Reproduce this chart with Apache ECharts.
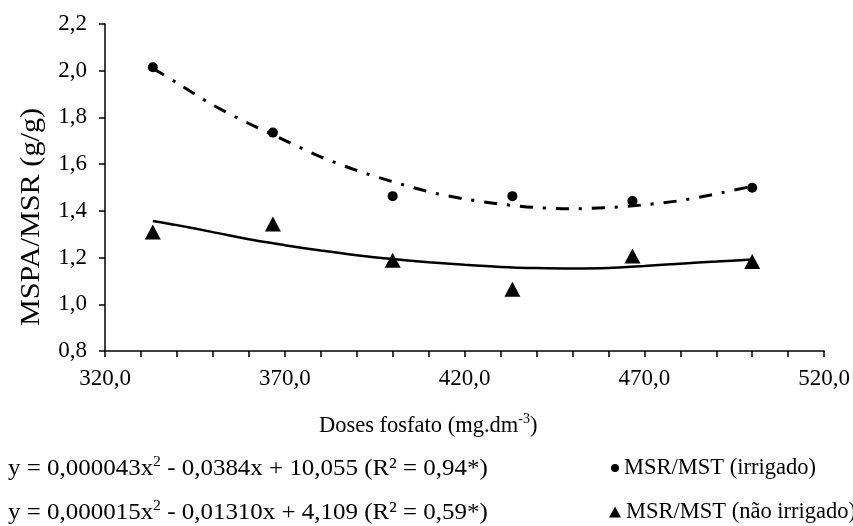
<!DOCTYPE html>
<html>
<head>
<meta charset="utf-8">
<script src="https://cdn.jsdelivr.net/npm/echarts@6/dist/echarts.min.js"></script>
<style>
html,body{margin:0;padding:0;background:#fff;}
#chart{width:853px;height:526px;}
</style>
</head>
<body>
<div id="chart"></div>
<script>
// ---- data ----
const doses = [333.3, 366.7, 400, 433.3, 466.7, 500];
const irrigado = [2.015, 1.735, 1.463, 1.463, 1.442, 1.499];
const naoIrrigado = [1.31, 1.344, 1.189, 1.064, 1.207, 1.183];

// trend curves
const curveX = [333.3, 340, 350, 360, 370, 380, 390, 400, 410, 420, 430, 440, 450, 460, 470, 480, 490, 500];
const curveIrrigado = [2.01, 1.948, 1.853, 1.774, 1.702, 1.631, 1.573, 1.525, 1.482, 1.451, 1.429, 1.414, 1.409, 1.414, 1.426, 1.444, 1.473, 1.505];
const curveNao = [1.357, 1.339, 1.309, 1.278, 1.253, 1.230, 1.210, 1.194, 1.180, 1.169, 1.160, 1.155, 1.153, 1.155, 1.164, 1.174, 1.183, 1.192];

const seriesNames = ['MSR/MST (irrigado)', 'MSR/MST (não irrigado)'];
const xTitle = 'Doses fosfato (mg.dm';
const xTitleSup = '-3';
const yTitle = 'MSPA/MSR (g/g)';
const eq1 = ['y = 0,000043x', '2', ' - 0,0384x + 10,055 (R² = 0,94*)'];
const eq2 = ['y = 0,000015x', '2', ' - 0,01310x + 4,109 (R² = 0,59*)'];

const FONT = "'Liberation Serif','Times New Roman',serif";
const fmt = v => v.toFixed(1).replace('.', ',');

const chart = echarts.init(document.getElementById('chart'), null, {renderer: 'canvas'});
const pair = (xs, ys) => xs.map((x, i) => [x, ys[i]]);

const richBase = (size, supSize) => ({
  a: {fontFamily: FONT, fontSize: size, fill: '#000', lineHeight: size + 2, verticalAlign: 'bottom'},
  s: {fontFamily: FONT, fontSize: supSize, fill: '#000', lineHeight: supSize, verticalAlign: 'top', padding: [0, 0, 0, 0]}
});

const legendCommon = {
  orient: 'vertical', padding: 0, selectedMode: false,
  textStyle: {fontFamily: FONT, fontSize: 22.5, color: '#000', lineHeight: 24}
};

chart.setOption({
  animation: false,
  backgroundColor: '#fff',
  textStyle: {fontFamily: FONT, color: '#000'},
  grid: {left: 105, right: 28, top: 24, bottom: 175, containLabel: false},
  xAxis: {
    type: 'value', min: 320, max: 520, interval: 50,
    axisLine: {show: true, lineStyle: {color: '#000', width: 1.5}},
    axisTick: {show: true, inside: false, length: 6, lineStyle: {color: '#000', width: 1.5}},
    minorTick: {show: true, splitNumber: 5, length: 6, lineStyle: {color: '#000', width: 1.5}},
    splitLine: {show: false},
    axisLabel: {formatter: fmt, fontFamily: FONT, fontSize: 23, color: '#000', margin: 16}
  },
  yAxis: {
    type: 'value', min: 0.8, max: 2.2, interval: 0.2,
    axisLine: {show: true, lineStyle: {color: '#000', width: 1.5}},
    axisTick: {show: true, inside: false, length: 6, lineStyle: {color: '#000', width: 1.5}},
    splitLine: {show: false},
    axisLabel: {formatter: fmt, fontFamily: FONT, fontSize: 23, color: '#000', margin: 18}
  },
  legend: [
    Object.assign({}, legendCommon, {
      left: 611, top: 456, itemWidth: 8, itemHeight: 8,
      data: [{name: seriesNames[0], icon: 'circle'}]
    }),
    Object.assign({}, legendCommon, {
      left: 609, top: 500, itemWidth: 12, itemHeight: 11,
      data: [{name: seriesNames[1], icon: 'triangle'}]
    })
  ],
  series: [
    {
      type: 'line', name: 'fitIrr', data: pair(curveX, curveIrrigado), smooth: 0.3,
      showSymbol: false, symbol: 'none', silent: true,
      lineStyle: {color: '#000', width: 3, type: [13, 10, 3, 10]}, z: 1
    },
    {
      type: 'line', name: 'fitNao', data: pair(curveX, curveNao), smooth: 0.3,
      showSymbol: false, symbol: 'none', silent: true,
      lineStyle: {color: '#000', width: 2.5}, z: 1
    },
    {
      type: 'scatter', name: seriesNames[0], data: pair(doses, irrigado),
      symbol: 'circle', symbolSize: 10, itemStyle: {color: '#000', opacity: 1}, z: 3
    },
    {
      type: 'scatter', name: seriesNames[1], data: pair(doses, naoIrrigado),
      symbol: 'triangle', symbolSize: [16, 15], itemStyle: {color: '#000', opacity: 1}, z: 3
    }
  ],
  graphic: [
    {
      type: 'text', x: 32, y: 217, rotation: Math.PI / 2, scaleX: 1.12,
      style: {text: yTitle, font: "27px " + FONT, fill: '#000', align: 'center', verticalAlign: 'middle'}
    },
    {
      type: 'text', x: 319, y: 425,
      style: {
        text: '{a|' + xTitle + '}{s|' + xTitleSup + '}{a|)}',
        verticalAlign: 'middle', align: 'left',
        rich: richBase(22.5, 14)
      }
    },
    {
      type: 'text', x: 8, y: 468, scaleX: 1.04,
      style: {
        text: '{a|' + eq1[0] + '}{s|' + eq1[1] + '}{a|' + eq1[2] + '}',
        verticalAlign: 'middle', align: 'left',
        rich: richBase(24, 15)
      }
    },
    {
      type: 'text', x: 8, y: 512, scaleX: 1.04,
      style: {
        text: '{a|' + eq2[0] + '}{s|' + eq2[1] + '}{a|' + eq2[2] + '}',
        verticalAlign: 'middle', align: 'left',
        rich: richBase(24, 15)
      }
    }
  ]
});
</script>
</body>
</html>
